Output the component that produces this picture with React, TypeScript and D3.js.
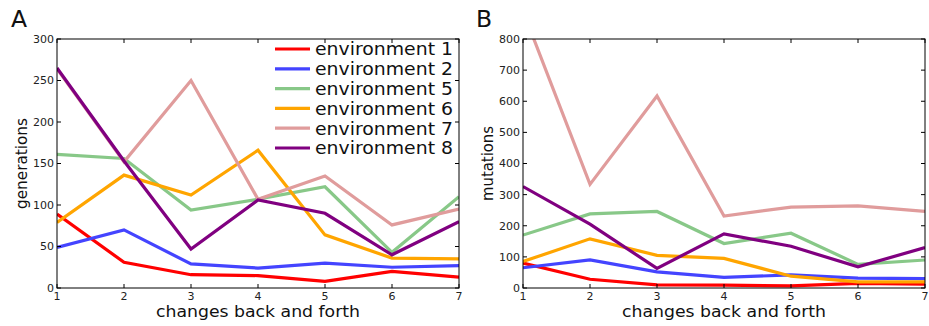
import React, { useEffect } from "react";
import * as d3 from "d3";

// x positions shared by both panels
const changes = [1, 2, 3, 4, 5, 6, 7];

const seriesNames = [
  "environment 1",
  "environment 2",
  "environment 5",
  "environment 6",
  "environment 7",
  "environment 8",
];
const seriesColors = ["#ff0000", "#4444ff", "#88c888", "#ffa500", "#e09c9c", "#800080"];

// panel A : generations
const genEnv1 = [89, 31, 16, 15, 8, 20, 13];
const genEnv2 = [49, 70, 29, 24, 30, 25, 27];
const genEnv5 = [161, 156, 94, 107, 122, 43, 110];
const genEnv6 = [79, 136, 112, 166, 64, 36, 35];
const genEnv7 = [264, 152, 250, 107, 135, 76, 95];
const genEnv8 = [265, 153, 47, 106, 90, 40, 80];
const genTicks = [0, 50, 100, 150, 200, 250, 300];

// panel B : mutations
const mutEnv1 = [80, 28, 10, 9, 7, 15, 12];
const mutEnv2 = [65, 90, 52, 34, 42, 32, 30];
const mutEnv5 = [170, 238, 246, 143, 176, 76, 90];
const mutEnv6 = [85, 158, 105, 95, 38, 20, 20];
const mutEnv7 = [890, 333, 617, 231, 260, 264, 246];
const mutEnv8 = [326, 205, 63, 174, 134, 68, 130];
const mutTicks = [0, 100, 200, 300, 400, 500, 600, 700, 800];

const tickFont = "DejaVu Sans, sans-serif";
const labelFont = "DejaVu Sans, sans-serif";

type PanelProps = {
  id: string;
  letter: string;
  left: number;
  right: number;
  yMax: number;
  yTicks: number[];
  yLabel: string;
  yLabelLen: number;
  data: number[][];
  legend?: boolean;
  letterX: number;
};

const top = 39;
const bottom = 288;

function Panel({ id, letter, left, right, yMax, yTicks, yLabel, yLabelLen, data, legend, letterX }: PanelProps) {
  const x = d3.scaleLinear().domain([1, 7]).range([left, right]);
  const y = d3.scaleLinear().domain([0, yMax]).range([bottom, top]);
  const line = d3
    .line<number>()
    .x((_, i) => x(changes[i]))
    .y((d) => y(d));

  const mid = (left + right) / 2;

  return (
    <g>
      <defs>
        <clipPath id={`clip-${id}`}>
          <rect x={left} y={top} width={right - left} height={bottom - top} />
        </clipPath>
      </defs>
      <text x={letterX} y={27.3} fontFamily={labelFont} fontSize={23.5} fill="#111">
        {letter}
      </text>
      <g clipPath={`url(#clip-${id})`}>
        {data.map((d, i) => (
          <path
            key={i}
            d={line(d) || ""}
            fill="none"
            stroke={seriesColors[i]}
            strokeWidth={3.2}
            strokeLinejoin="miter"
          />
        ))}
      </g>
      {/* ticks, inward on all sides */}
      {yTicks.map((t) => (
        <g key={`y${t}`}>
          <line x1={left} x2={left + 4} y1={y(t)} y2={y(t)} stroke="#000" />
          <line x1={right - 4} x2={right} y1={y(t)} y2={y(t)} stroke="#000" />
          <text
            x={left - 3}
            y={y(t)}
            dy="0.36em"
            textAnchor="end"
            fontFamily={tickFont}
            fontSize={11}
            fill="#222"
          >
            {t}
          </text>
        </g>
      ))}
      {changes.map((c) => (
        <g key={`x${c}`}>
          <line x1={x(c)} x2={x(c)} y1={bottom} y2={bottom - 4} stroke="#000" />
          <line x1={x(c)} x2={x(c)} y1={top} y2={top + 4} stroke="#000" />
          <text
            x={x(c)}
            y={bottom + 12}
            textAnchor="middle"
            fontFamily={tickFont}
            fontSize={11}
            fill="#222"
          >
            {c}
          </text>
        </g>
      ))}
      <rect x={left} y={top} width={right - left} height={bottom - top} fill="none" stroke="#000" strokeWidth={1} />
      <text
        x={mid}
        y={316.5}
        textAnchor="middle"
        fontFamily={labelFont}
        fontSize={16.5}
        textLength={204}
        lengthAdjust="spacingAndGlyphs"
        fill="#111"
      >
        changes back and forth
      </text>
      <text
        transform={`translate(${left - 30},${(top + bottom) / 2}) rotate(-90)`}
        textAnchor="middle"
        fontFamily={labelFont}
        fontSize={16.5}
        textLength={yLabelLen}
        lengthAdjust="spacingAndGlyphs"
        fill="#111"
      >
        {yLabel}
      </text>
      {legend &&
        seriesNames.map((name, i) => {
          const ly = 49 + i * 19.8;
          return (
            <g key={name}>
              <line x1={275} x2={310} y1={ly} y2={ly} stroke={seriesColors[i]} strokeWidth={3.2} />
              <text
                x={315}
                y={ly}
                dy="0.36em"
                fontFamily={labelFont}
                fontSize={18}
                textLength={138}
                lengthAdjust="spacingAndGlyphs"
                fill="#111"
              >
                {name}
              </text>
            </g>
          );
        })}
    </g>
  );
}

export default function App() {
  useEffect(() => {
    document.body.style.margin = "0";
  }, []);

  return (
    <svg width={929} height={326} style={{ display: "block", background: "#fff" }}>
      <Panel
        id="a"
        letter="A"
        letterX={11}
        left={57}
        right={459}
        yMax={300}
        yTicks={genTicks}
        yLabel="generations"
        yLabelLen={91}
        data={[genEnv1, genEnv2, genEnv5, genEnv6, genEnv7, genEnv8]}
        legend
      />
      <Panel
        id="b"
        letter="B"
        letterX={476}
        left={523}
        right={925}
        yMax={800}
        yTicks={mutTicks}
        yLabel="mutations"
        yLabelLen={75}
        data={[mutEnv1, mutEnv2, mutEnv5, mutEnv6, mutEnv7, mutEnv8]}
      />
    </svg>
  );
}
